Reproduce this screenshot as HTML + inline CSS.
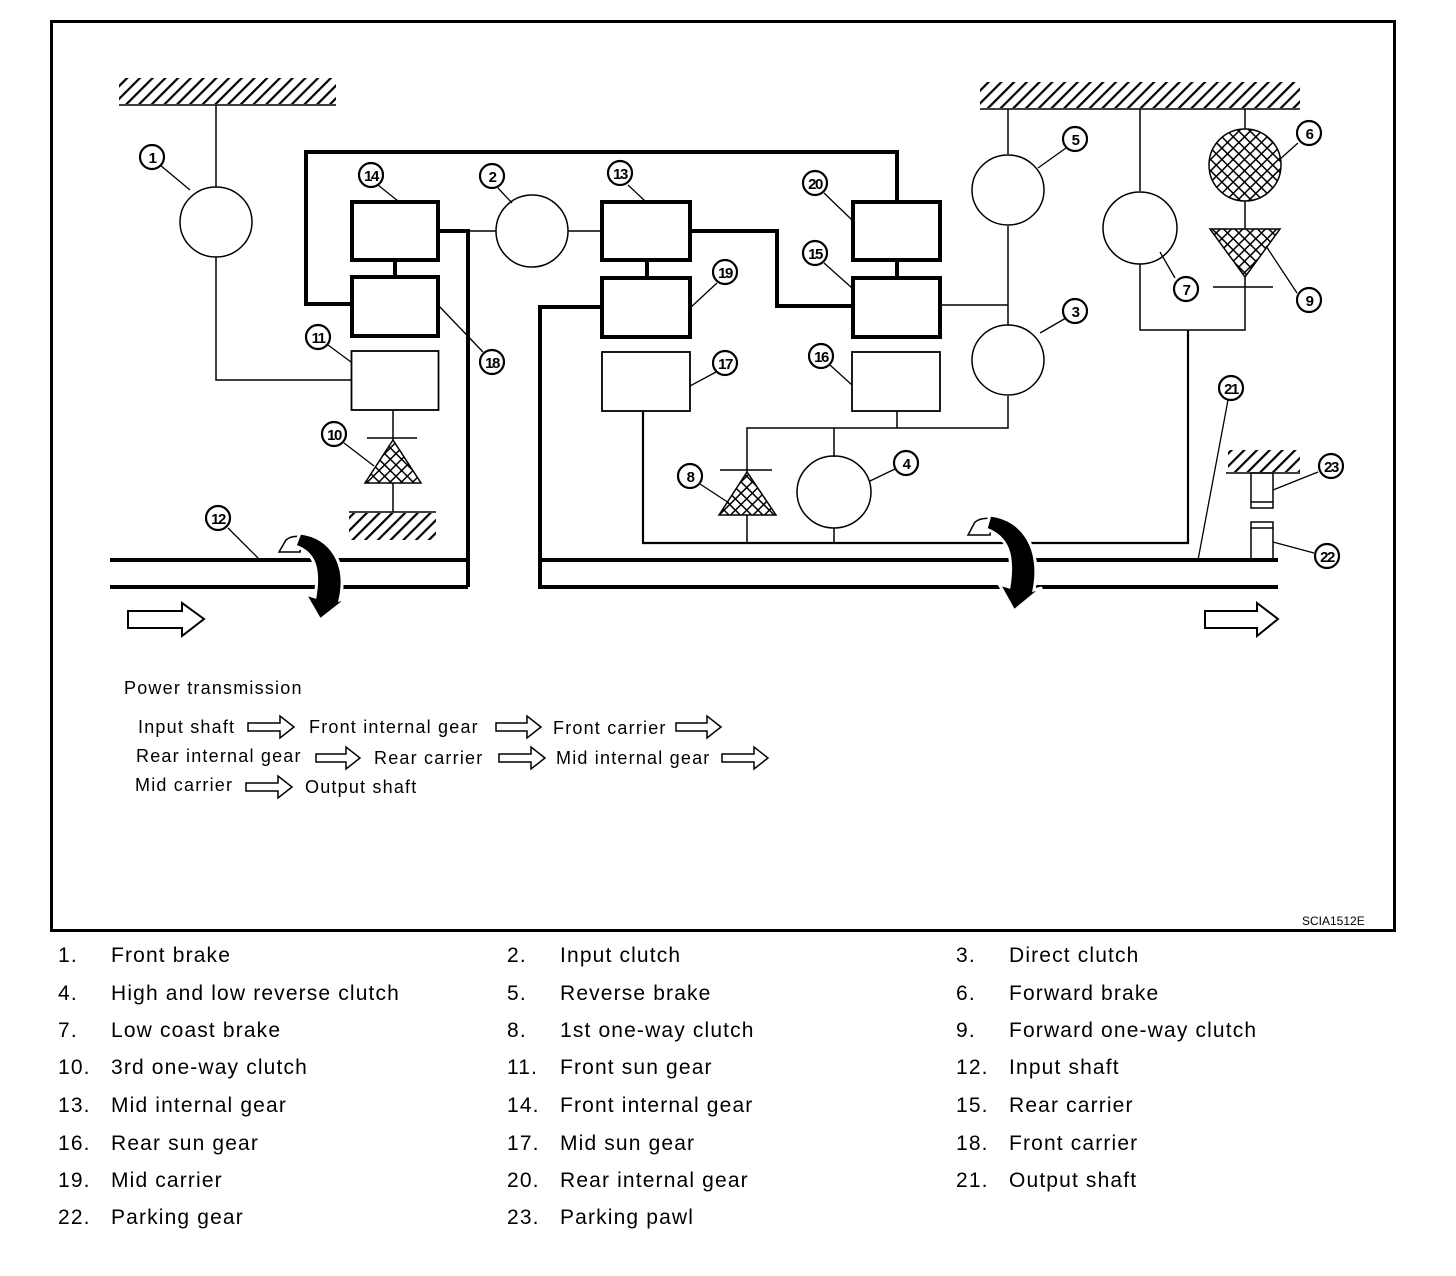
<!DOCTYPE html>
<html><head><meta charset="utf-8"><style>
html,body{margin:0;padding:0;background:#fff;}
svg{display:block;font-family:"Liberation Sans",sans-serif;}
</style></head><body>
<svg width="1456" height="1276" viewBox="0 0 1456 1276" xmlns="http://www.w3.org/2000/svg">
<defs>
<pattern id="h" width="9" height="9" patternUnits="userSpaceOnUse" patternTransform="rotate(45)">
<rect width="9" height="9" fill="#fff"/><rect x="0" y="0" width="2.2" height="9" fill="#000"/></pattern>
<pattern id="x" width="8" height="8" patternUnits="userSpaceOnUse" patternTransform="rotate(45)">
<rect width="8" height="8" fill="#fff"/><rect width="1.5" height="8" fill="#000"/><rect width="8" height="1.5" fill="#000"/></pattern>
</defs>
<rect x="0" y="0" width="1456" height="1276" fill="#fff"/>
<rect x="51.5" y="21.5" width="1343" height="909" fill="none" stroke="#000" stroke-width="3"/>

<rect x="119" y="78" width="217" height="26" fill="url(#h)"/><line x1="119" y1="105" x2="336" y2="105" stroke="#000" stroke-width="1.5"/>
<rect x="349" y="513" width="87" height="27" fill="url(#h)"/><line x1="349" y1="512" x2="436" y2="512" stroke="#000" stroke-width="1.5"/>
<rect x="980" y="82" width="320" height="26" fill="url(#h)"/><line x1="980" y1="109" x2="1300" y2="109" stroke="#000" stroke-width="1.5"/>
<rect x="1228" y="450" width="72" height="22" fill="url(#h)"/><line x1="1226" y1="473" x2="1300" y2="473" stroke="#000" stroke-width="1.5"/>

<g fill="none" stroke="#000">
<g stroke-width="1.5">
<line x1="216" y1="105" x2="216" y2="187"/>
<polyline points="216,257 216,380 351,380"/>
<line x1="393" y1="410" x2="393" y2="440"/>
<line x1="367" y1="438" x2="417" y2="438"/>
<line x1="393" y1="483" x2="393" y2="512"/>
<line x1="468" y1="231" x2="496" y2="231"/>
<line x1="568" y1="231" x2="601" y2="231"/>
<line x1="940" y1="305" x2="1008" y2="305"/>
<line x1="1008" y1="109" x2="1008" y2="154"/>
<line x1="1008" y1="226" x2="1008" y2="325"/>
<polyline points="1008,396 1008,428 747,428 747,543"/>
<line x1="897" y1="411" x2="897" y2="428"/>
<line x1="834" y1="428" x2="834" y2="457"/>
<line x1="834" y1="528" x2="834" y2="543"/>
<line x1="720" y1="470" x2="772" y2="470"/>
<line x1="1140" y1="109" x2="1140" y2="191"/>
<polyline points="1140,264 1140,330 1245,330 1245,277"/>
<line x1="1213" y1="287" x2="1273" y2="287"/>
<line x1="1245" y1="109" x2="1245" y2="130"/>
<line x1="1245" y1="201" x2="1245" y2="229"/>
<rect x="1251" y="473" width="22" height="35"/><line x1="1251" y1="502" x2="1273" y2="502"/>
<rect x="1251" y="522" width="22" height="38"/><line x1="1251" y1="528" x2="1273" y2="528"/>
</g>
<g stroke-width="2.2">
<polyline points="643,411 643,543 1188,543 1188,330"/>
</g>
<rect x="351.5" y="351" width="87" height="59" stroke-width="1.8"/>
<rect x="602" y="352" width="88" height="59" stroke-width="1.8"/>
<rect x="852" y="352" width="88" height="59" stroke-width="1.8"/>
<g stroke-width="1.5">
<ellipse cx="216" cy="222" rx="36" ry="35"/>
<ellipse cx="532" cy="231" rx="36" ry="36"/>
<ellipse cx="1008" cy="190" rx="36" ry="35"/>
<ellipse cx="1008" cy="360" rx="36" ry="35"/>
<ellipse cx="834" cy="492" rx="37" ry="36"/>
<ellipse cx="1140" cy="228" rx="37" ry="36"/>
</g>
<g stroke-width="4">
<polyline points="351,304 306,304 306,152 897,152 897,201"/>
<rect x="352" y="202" width="86" height="58"/>
<rect x="352" y="277" width="86" height="59"/>
<line x1="395" y1="260" x2="395" y2="277"/>
<polyline points="438,231 468,231 468,587"/>
<line x1="110" y1="560" x2="468" y2="560"/>
<line x1="110" y1="587" x2="468" y2="587"/>
<rect x="602" y="202" width="88" height="58"/>
<rect x="602" y="278" width="88" height="59"/>
<line x1="647" y1="260" x2="647" y2="278"/>
<polyline points="601,307 540,307 540,587 1278,587"/>
<line x1="540" y1="560" x2="1278" y2="560"/>
<polyline points="690,231 777,231 777,306 852,306"/>
<rect x="853" y="202" width="87" height="58"/>
<rect x="853" y="278" width="87" height="59"/>
<line x1="897" y1="260" x2="897" y2="278"/>
</g>
</g>
<polygon points="393,440 365,483 421,483" fill="url(#x)" stroke="#000" stroke-width="1.5"/>
<polygon points="747,472 719,515 776,515" fill="url(#x)" stroke="#000" stroke-width="1.5"/>
<circle cx="1245" cy="165" r="36" fill="url(#x)" stroke="#000" stroke-width="1.5"/>
<polygon points="1210,229 1280,229 1245,277" fill="url(#x)" stroke="#000" stroke-width="1.5"/>

<path d="M279,552 L286,540 Q292,535 302,537 L300,552 Z" fill="#fff" stroke="#000" stroke-width="1.5"/>
<path d="M300,533 C332,537 348,565 340,600 L348,598 L320,620 L305,594 L315,597 C320,568 314,552 295,546 Z" fill="#000" stroke="#fff" stroke-width="3"/>
<path d="M968,535 L975,522 Q982,517 992,519 L990,535 Z" fill="#fff" stroke="#000" stroke-width="1.5"/>
<path d="M990,515 C1024,519 1042,550 1034,590 L1042,588 L1014,611 L999,584 L1009,587 C1014,555 1008,537 986,529 Z" fill="#000" stroke="#fff" stroke-width="3"/>

<path d="M128,611 H182 V603 L204,619 L182,636 V628 H128 Z" fill="#fff" stroke="#000" stroke-width="2"/>
<path d="M1205,611 H1257 V603 L1278,619 L1257,636 V628 H1205 Z" fill="#fff" stroke="#000" stroke-width="2"/>

<g stroke="#000" stroke-width="1.3" fill="none">
<line x1="160" y1="165" x2="190" y2="190"/>
<line x1="378" y1="185" x2="398" y2="201"/>
<line x1="498" y1="188" x2="512" y2="203"/>
<line x1="628" y1="185" x2="645" y2="201"/>
<line x1="824" y1="193" x2="852" y2="220"/>
<line x1="824" y1="263" x2="852" y2="288"/>
<line x1="717" y1="283" x2="690" y2="308"/>
<line x1="483" y1="352" x2="438" y2="305"/>
<line x1="328" y1="345" x2="351" y2="362"/>
<line x1="344" y1="443" x2="374" y2="466"/>
<line x1="228" y1="528" x2="258" y2="558"/>
<line x1="716" y1="372" x2="690" y2="386"/>
<line x1="830" y1="365" x2="852" y2="385"/>
<line x1="700" y1="484" x2="729" y2="503"/>
<line x1="895" y1="469" x2="870" y2="481"/>
<line x1="1066" y1="148" x2="1038" y2="168"/>
<line x1="1298" y1="143" x2="1279" y2="160"/>
<line x1="1066" y1="318" x2="1040" y2="333"/>
<line x1="1175" y1="278" x2="1160" y2="252"/>
<line x1="1297" y1="293" x2="1266" y2="246"/>
<line x1="1228" y1="400" x2="1198" y2="560"/>
<line x1="1318" y1="472" x2="1273" y2="490"/>
<line x1="1314" y1="553" x2="1273" y2="542"/>
</g>
<g font-weight="bold" font-size="15" text-anchor="middle" fill="#000">
<g stroke="#000" stroke-width="2.2" fill="#fff">
<circle cx="152" cy="157" r="12"/><circle cx="371" cy="175" r="12"/><circle cx="492" cy="176" r="12"/>
<circle cx="620" cy="173" r="12"/><circle cx="815" cy="183" r="12"/><circle cx="815" cy="253" r="12"/>
<circle cx="725" cy="272" r="12"/><circle cx="492" cy="362" r="12"/><circle cx="318" cy="337" r="12"/>
<circle cx="334" cy="434" r="12"/><circle cx="218" cy="518" r="12"/><circle cx="725" cy="363" r="12"/>
<circle cx="821" cy="356" r="12"/><circle cx="690" cy="476" r="12"/><circle cx="906" cy="463" r="12"/>
<circle cx="1075" cy="139" r="12"/><circle cx="1309" cy="133" r="12"/><circle cx="1075" cy="311" r="12"/>
<circle cx="1186" cy="289" r="12"/><circle cx="1309" cy="300" r="12"/><circle cx="1231" cy="388" r="12"/>
<circle cx="1331" cy="466" r="12"/><circle cx="1327" cy="556" r="12"/>
</g>
<g letter-spacing="-1.5">
<text x="152" y="163">1</text><text x="371" y="181">14</text><text x="492" y="182">2</text>
<text x="620" y="179">13</text><text x="815" y="189">20</text><text x="815" y="259">15</text>
<text x="725" y="278">19</text><text x="492" y="368">18</text><text x="318" y="343">11</text>
<text x="334" y="440">10</text><text x="218" y="524">12</text><text x="725" y="369">17</text>
<text x="821" y="362">16</text><text x="690" y="482">8</text><text x="906" y="469">4</text>
<text x="1075" y="145">5</text><text x="1309" y="139">6</text><text x="1075" y="317">3</text>
<text x="1186" y="295">7</text><text x="1309" y="306">9</text><text x="1231" y="394">21</text>
<text x="1331" y="472">23</text><text x="1327" y="562">22</text>
</g>
</g>

<g font-size="18" fill="#000" letter-spacing="1.2">
<text x="124" y="694">Power transmission</text>
<text x="138" y="733">Input shaft</text>
<text x="309" y="733">Front internal gear</text>
<text x="553" y="734">Front carrier</text>
<text x="136" y="762">Rear internal gear</text>
<text x="374" y="764">Rear carrier</text>
<text x="556" y="764">Mid internal gear</text>
<text x="135" y="791">Mid carrier</text>
<text x="305" y="793">Output shaft</text>
</g>
<g fill="#fff" stroke="#000" stroke-width="1.5">
<path d="M248,723 H280 V716 L294,727 L280,738 V731 H248 Z"/>
<path d="M496,723 H527 V716 L541,727 L527,738 V731 H496 Z"/>
<path d="M676,723 H707 V716 L721,727 L707,738 V731 H676 Z"/>
<path d="M316,754 H346 V747 L360,758 L346,769 V762 H316 Z"/>
<path d="M499,754 H531 V747 L545,758 L531,769 V762 H499 Z"/>
<path d="M722,754 H754 V747 L768,758 L754,769 V762 H722 Z"/>
<path d="M246,783 H278 V776 L292,787 L278,798 V791 H246 Z"/>
</g>
<text x="1302" y="925" font-size="12" fill="#000">SCIA1512E</text>

<g font-size="21" fill="#000" letter-spacing="1.15">
<text x="58" y="962">1.</text><text x="111" y="962">Front brake</text>
<text x="507" y="962">2.</text><text x="560" y="962">Input clutch</text>
<text x="956" y="962">3.</text><text x="1009" y="962">Direct clutch</text>
<text x="58" y="1000">4.</text><text x="111" y="1000">High and low reverse clutch</text>
<text x="507" y="1000">5.</text><text x="560" y="1000">Reverse brake</text>
<text x="956" y="1000">6.</text><text x="1009" y="1000">Forward brake</text>
<text x="58" y="1037">7.</text><text x="111" y="1037">Low coast brake</text>
<text x="507" y="1037">8.</text><text x="560" y="1037">1st one-way clutch</text>
<text x="956" y="1037">9.</text><text x="1009" y="1037">Forward one-way clutch</text>
<text x="58" y="1074">10.</text><text x="111" y="1074">3rd one-way clutch</text>
<text x="507" y="1074">11.</text><text x="560" y="1074">Front sun gear</text>
<text x="956" y="1074">12.</text><text x="1009" y="1074">Input shaft</text>
<text x="58" y="1112">13.</text><text x="111" y="1112">Mid internal gear</text>
<text x="507" y="1112">14.</text><text x="560" y="1112">Front internal gear</text>
<text x="956" y="1112">15.</text><text x="1009" y="1112">Rear carrier</text>
<text x="58" y="1150">16.</text><text x="111" y="1150">Rear sun gear</text>
<text x="507" y="1150">17.</text><text x="560" y="1150">Mid sun gear</text>
<text x="956" y="1150">18.</text><text x="1009" y="1150">Front carrier</text>
<text x="58" y="1187">19.</text><text x="111" y="1187">Mid carrier</text>
<text x="507" y="1187">20.</text><text x="560" y="1187">Rear internal gear</text>
<text x="956" y="1187">21.</text><text x="1009" y="1187">Output shaft</text>
<text x="58" y="1224">22.</text><text x="111" y="1224">Parking gear</text>
<text x="507" y="1224">23.</text><text x="560" y="1224">Parking pawl</text>
</g>
</svg>
</body></html>
